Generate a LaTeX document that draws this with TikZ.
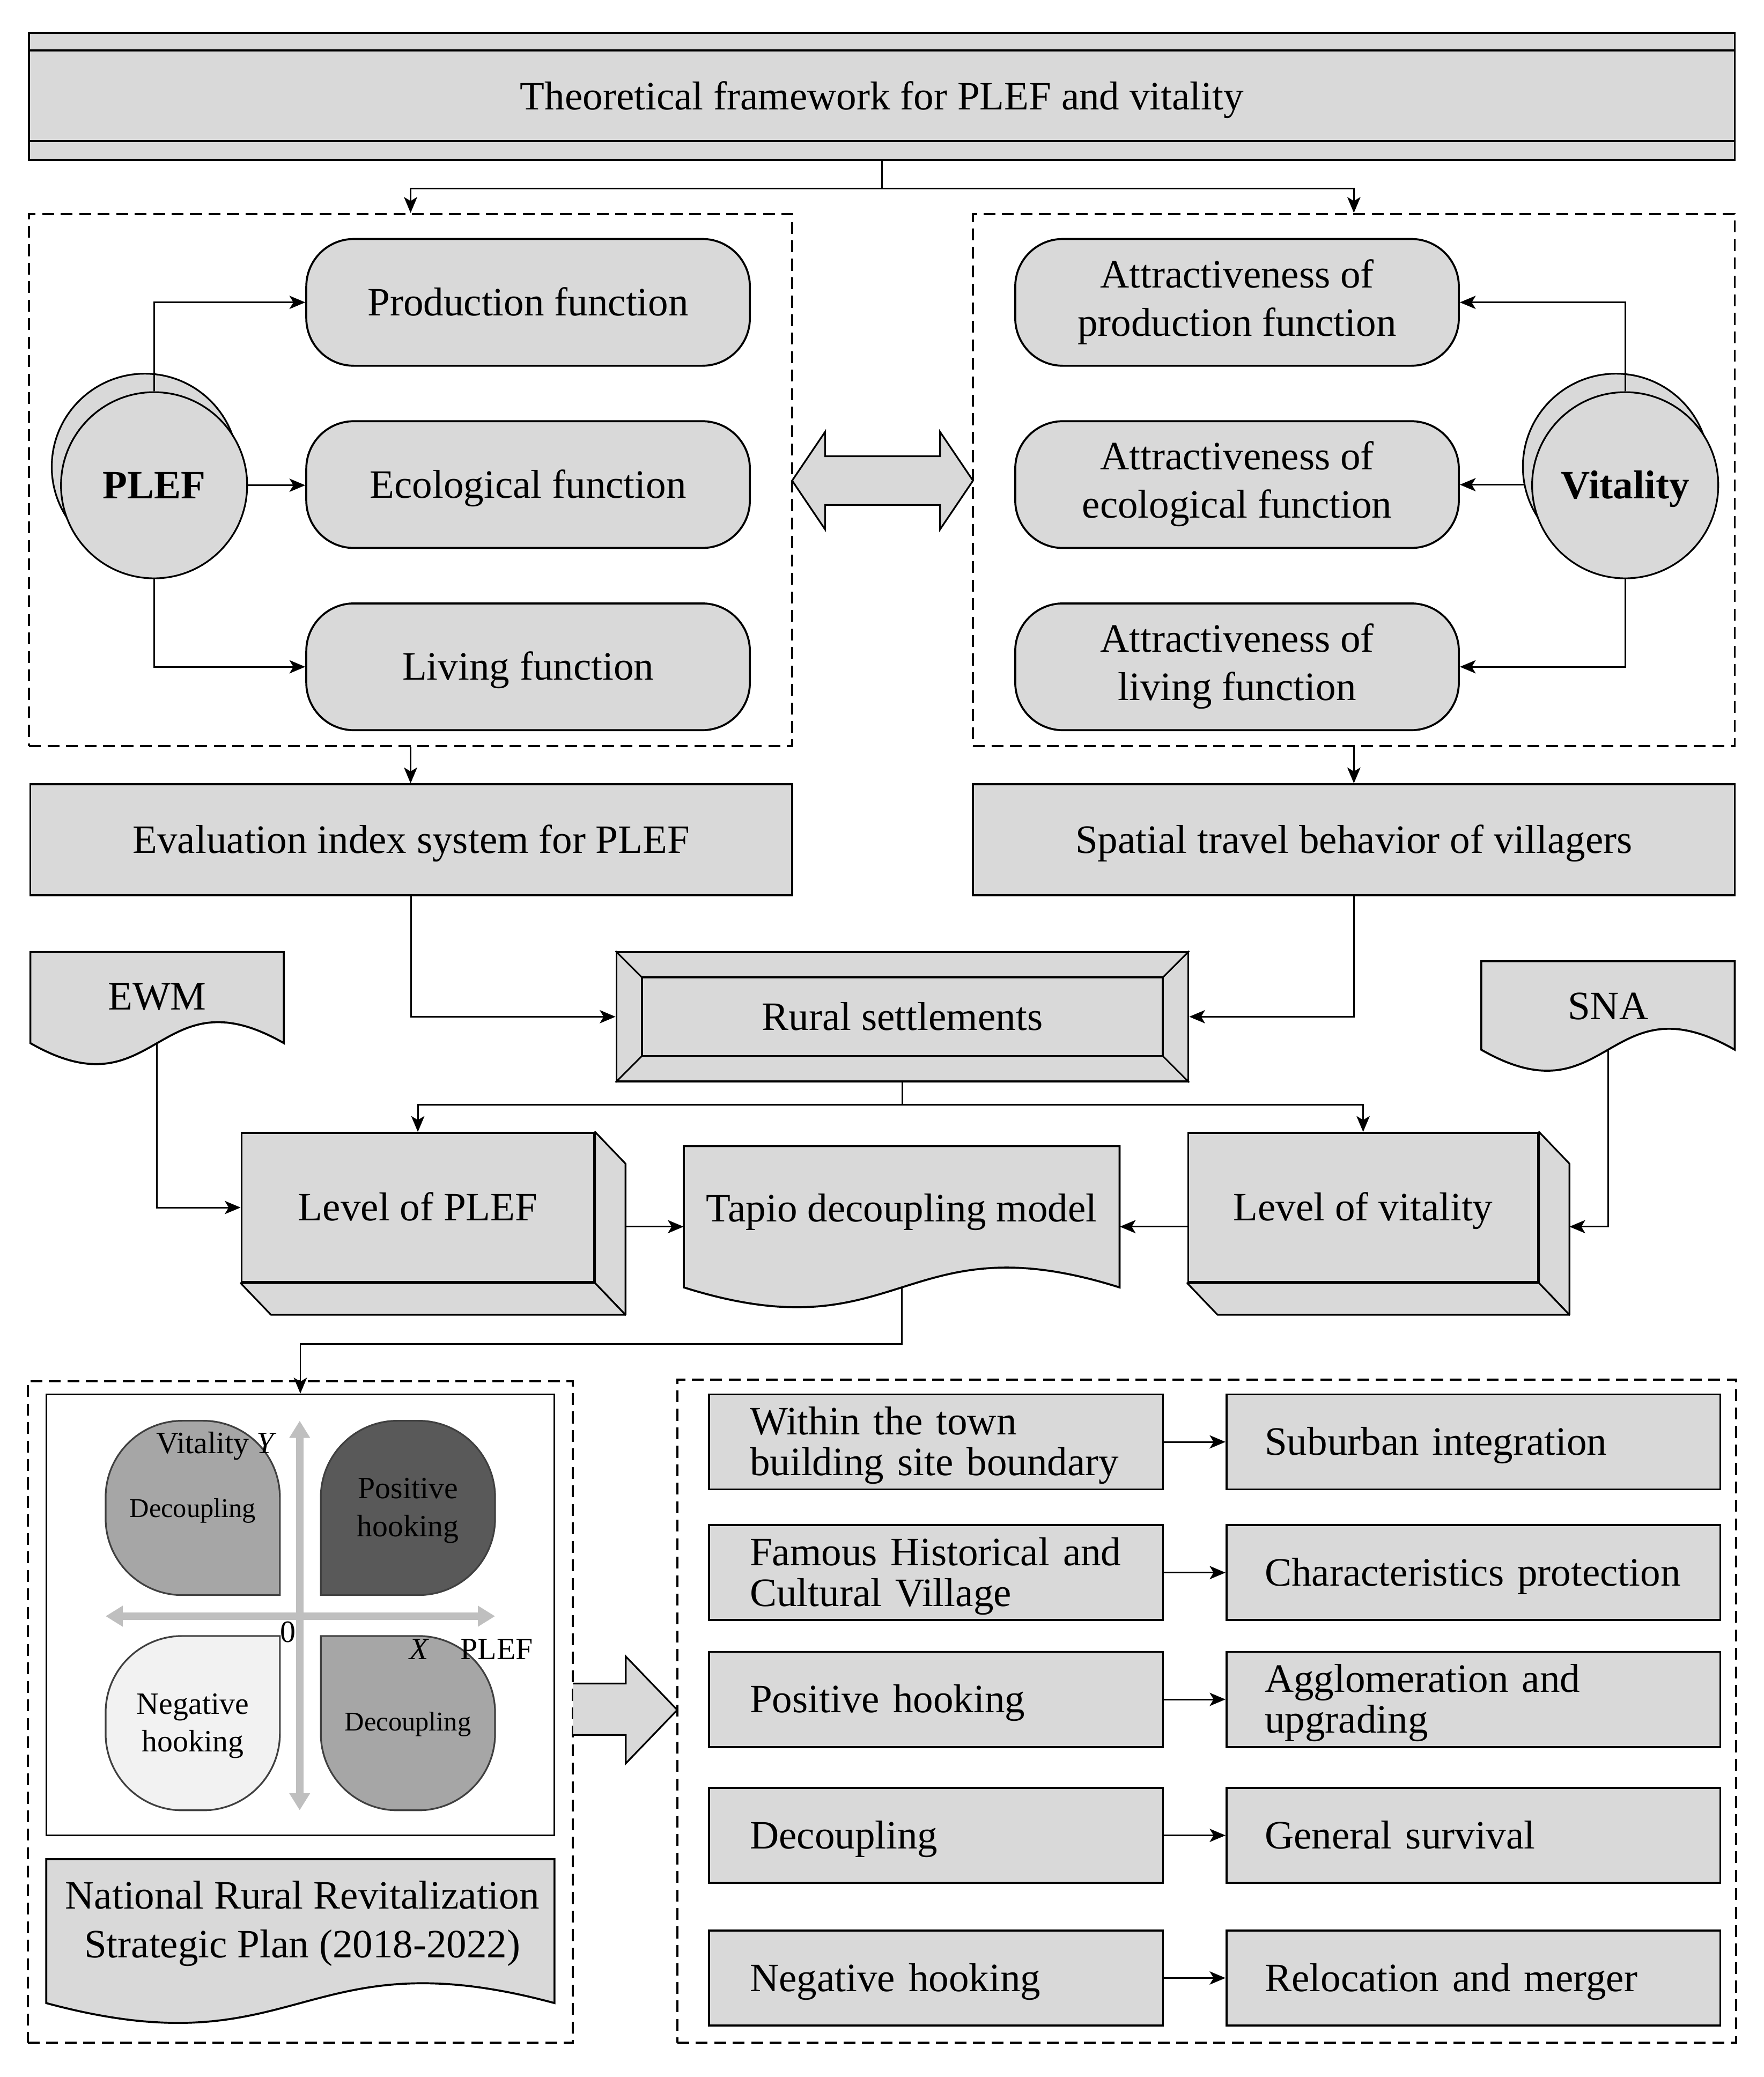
\documentclass[tikz,border=0pt]{standalone}
\usepackage{fontspec}
\setmainfont{Liberation Serif}
\usetikzlibrary{arrows.meta,calc}
\definecolor{bg}{HTML}{D9D9D9}
\definecolor{pmid}{HTML}{A6A6A6}
\definecolor{pdark}{HTML}{595959}
\definecolor{plight}{HTML}{F2F2F2}
\definecolor{axisgray}{HTML}{BFBFBF}
\definecolor{pedge}{HTML}{404040}
\newcommand\bigtxt{\fontsize{30.5}{36.5}\selectfont}
\newcommand\rowtxt{\fontsize{30.5}{31}\selectfont}
\newcommand\qtxt{\fontsize{23.5}{28.5}\selectfont}
\newcommand\stxt{\fontsize{20.5}{24}\selectfont}
\begin{document}
\begin{tikzpicture}[x=1pt,y=-1pt,
  strutted/.style={execute at begin node={\rule{0pt}{0.9em}},execute at end node={\rule[-0.24em]{0pt}{0.24em}}},
  box/.style={draw=black,line width=1.5pt,fill=bg,inner sep=0pt,align=center,font=\bigtxt,strutted},
  rbox/.style={box,rounded corners=36pt,minimum width=336pt,minimum height=96pt},
  dbox/.style={draw=black,line width=1.5pt,dash pattern=on 9pt off 5pt,inner sep=0pt},
  wire/.style={line width=1.2pt},
  conn/.style={line width=1.2pt,-{Stealth[length=12pt,width=10pt,inset=3pt]}},
  circ/.style={circle,draw=black,line width=1.3pt,fill=bg,minimum size=141pt,inner sep=0pt},
  doc/.style={draw=black,line width=1.5pt,fill=bg},
  face/.style={draw=black,line width=1.3pt,fill=bg,line join=round},
  petal/.style={draw=pedge,line width=1.3pt},
  qaxis/.style={draw=axisgray,line width=5.7pt,{Triangle[length=13pt,width=15pt]}-{Triangle[length=13pt,width=15pt]},color=axisgray},
  lrow/.style={box,minimum width=344pt,minimum height=72pt,text width=282pt,align=left,font=\rowtxt},
  rrow/.style={box,minimum width=374pt,minimum height=72pt,text width=316pt,align=left,font=\rowtxt}
]
\useasboundingbox (0,0) rectangle (1336,1573);
\fill[white] (0,0) rectangle (1336,1573);

% ---------- title ----------
\node[box,minimum width=1292pt,minimum height=96pt] (title) at (668,73) {Theoretical framework for PLEF and vitality};
\draw[line width=1.5pt] ($(title.north west)+(0,14)$) -- ($(title.north east)+(0,14)$);
\draw[line width=1.5pt] ($(title.south west)+(0,-15)$) -- ($(title.south east)+(0,-15)$);

% ---------- dashed upper groups ----------
\node[dbox,minimum width=578pt,minimum height=403pt] (lbox) at (311,363.5) {};
\node[dbox,minimum width=577pt,minimum height=403pt] (rbox) at (1025.5,363.5) {};
\draw[wire] (title.south) -- ++(0,21) coordinate (tj);
\draw[conn] (tj) -| (lbox.north);
\draw[conn] (tj) -| (rbox.north);

% left functions
\node[rbox] (prod) at (400,229) {Production function};
\node[rbox] (eco) at (400,367) {Ecological function};
\node[rbox] (liv) at (400,505) {Living function};
% right attractiveness
\node[rbox] (aprod) at (937,229) {Attractiveness of\\production function};
\node[rbox] (aeco) at (937,367) {Attractiveness of\\ecological function};
\node[rbox] (aliv) at (937,505) {Attractiveness of\\living function};

% PLEF circles
\node[circ] (plefb) at (109.7,353.5) {};
\node[circ,font=\bigtxt\bfseries] (plef) at (116.7,367.5) {PLEF};
\draw[conn] (plef.north) |- (prod.west);
\draw[conn] (plef.east) -- (plef.east -| eco.west);
\draw[conn] (plef.south) |- (liv.west);

% Vitality circles
\node[circ] (vitb) at (1224,353.5) {};
\node[circ,font=\bigtxt\bfseries,strutted] (vit) at (1231,367.5) {Vitality};
\draw[conn] (vit.north) |- (aprod.east);
\draw[conn] (vitb.191) -- (vitb.191 -| aeco.east);
\draw[conn] (vit.south) |- (aliv.east);

% double arrow
\draw[line width=1.3pt,fill=bg,line join=miter] (600,364) -- (625,327) -- (625,345.5) -- (712,345.5) -- (712,327) -- (737,364) -- (712,401) -- (712,382.5) -- (625,382.5) -- (625,401) -- cycle;

% ---------- evaluation / spatial ----------
\node[box,minimum width=577pt,minimum height=84pt] (eval) at (311.5,636) {Evaluation index system for PLEF};
\node[box,minimum width=577pt,minimum height=84pt] (spat) at (1025.5,636) {Spatial travel behavior of villagers};
\draw[conn] (lbox.south) -- (lbox.south |- eval.north);
\draw[conn] (rbox.south) -- (rbox.south |- spat.north);

% ---------- rural settlements ----------
\node[box,minimum width=433pt,minimum height=98pt] (rural) at (683.5,770) {Rural settlements};
\draw[line width=1.5pt] ($(rural.north west)+(20,20)$) rectangle ($(rural.south east)+(-20,-20)$);
\draw[line width=1.2pt] (rural.north west) -- ++(20,20);
\draw[line width=1.2pt] (rural.north east) -- ++(-20,20);
\draw[line width=1.2pt] (rural.south west) -- ++(20,-20);
\draw[line width=1.2pt] (rural.south east) -- ++(-20,-20);
\draw[conn] (eval.south) |- (rural.west);
\draw[conn] (spat.south) |- (rural.east);

% ---------- EWM / SNA documents ----------
\draw[doc] (23,721) -- (215,721) -- (215,790) .. controls (119,735) and (119,845) .. (23,790) -- cycle;
\node[font=\bigtxt] (ewm) at (119,755) {EWM};
\coordinate (ewmbot) at (119,790);
\draw[doc] (1122,728) -- (1314,728) -- (1314,795) .. controls (1218,740) and (1218,850) .. (1122,795) -- cycle;
\node[font=\bigtxt] (sna) at (1218,762) {SNA};
\coordinate (snabot) at (1218,795);

% ---------- level boxes ----------
\node[box,minimum width=267pt,minimum height=113pt] (lplef) at (316.5,914.5) {Level of PLEF};
\draw[face] (lplef.north east) -- ++(23,24) -- ($(lplef.south east)+(23,24)$) -- (lplef.south east) -- cycle;
\draw[face] (lplef.south west) -- (lplef.south east) -- ($(lplef.south east)+(23,24)$) -- ($(lplef.south west)+(23,24)$) -- cycle;
\node[box,minimum width=265pt,minimum height=113pt] (lvit) at (1032.5,914.5) {Level of vitality};
\draw[face] (lvit.north east) -- ++(23,24) -- ($(lvit.south east)+(23,24)$) -- (lvit.south east) -- cycle;
\draw[face] (lvit.south west) -- (lvit.south east) -- ($(lvit.south east)+(23,24)$) -- ($(lvit.south west)+(23,24)$) -- cycle;
\draw[wire] (rural.south) -- ++(0,17) coordinate (rj);
\draw[conn] (rj) -| (lplef.north);
\draw[conn] (rj) -| (lvit.north);

% ---------- Tapio ----------
\draw[doc] (518,868) -- (848,868) -- (848,975) .. controls (683,923) and (683,1027) .. (518,975) -- cycle;
\node[font=\bigtxt,strutted,minimum width=330pt,minimum height=94pt,inner sep=0pt] (tapio) at (683,915) {Tapio decoupling model};
\coordinate (tapbot) at (683,975);
\draw[conn] ($(lplef.east)+(23,14.5)$) -- ($(tapio.west)+(0,14)$);
\draw[conn] ($(lvit.west)+(0,14.5)$) -- ($(tapio.east)+(0,14)$);
\draw[conn] (ewmbot) |- (lplef.west);
\draw[conn] (snabot) |- ($(lvit.east)+(23,14.5)$);

% ---------- bottom-left group ----------
\node[dbox,minimum width=413pt,minimum height=501pt] (bl) at (227.5,1296.5) {};
\node[draw=black,line width=1.3pt,fill=white,minimum width=385pt,minimum height=334pt,inner sep=0pt] (quad) at (227.5,1223) {};
\draw[conn] (tapbot) -- ++(0,43) -| (quad.north);

% petals
\def\petalpath{(0,0) -- (-74,0) .. controls (-106,0) and (-132,-26) .. (-132,-58) -- (-132,-74) .. controls (-132,-106) and (-106,-132) .. (-74,-132) -- (-58,-132) .. controls (-26,-132) and (0,-106) .. (0,-74) -- cycle}
\begin{scope}[shift={(212,1208)}]
  \draw[petal,fill=pmid] \petalpath;
\end{scope}
\begin{scope}[shift={(243,1208)},xscale=-1]
  \draw[petal,fill=pdark] \petalpath;
\end{scope}
\begin{scope}[shift={(212,1239)},yscale=-1]
  \draw[petal,fill=plight] \petalpath;
\end{scope}
\begin{scope}[shift={(243,1239)},xscale=-1,yscale=-1]
  \draw[petal,fill=pmid] \petalpath;
\end{scope}
\draw[qaxis] (80,1224) -- (375,1224);
\draw[qaxis] (227,1076) -- (227,1371);

\node[font=\qtxt,inner sep=0pt] (ylab) at (164,1095) {Vitality \textit{Y}};
\node[font=\qtxt,inner sep=0pt] (zero) at (218,1236) {0};
\node[font=\qtxt,inner sep=0pt] (xlab) at (357,1249) {\textit{X}\hspace{1em}PLEF};
\node[font=\stxt,inner sep=0pt] (q1) at (146,1144) {Decoupling};
\node[font=\qtxt,inner sep=0pt,align=center] (q2) at (309,1144) {Positive\\hooking};
\node[font=\qtxt,inner sep=0pt,align=center] (q3) at (146,1307) {Negative\\hooking};
\node[font=\stxt,inner sep=0pt] (q4) at (309,1306) {Decoupling};

% national plan document
\draw[doc] (35,1408) -- (420,1408) -- (420,1517) .. controls (227.5,1465) and (227.5,1569) .. (35,1517) -- cycle;
\node[font=\fontsize{30.5}{37}\selectfont,align=center,inner sep=0pt] (nat) at (229,1457) {National Rural Revitalization\\Strategic Plan (2018-2022)};

% big right arrow
\fill[bg] (434,1275) -- (474,1275) -- (474,1254.5) -- (513,1295) -- (474,1335.5) -- (474,1314) -- (434,1314) -- cycle;
\draw[line width=1.3pt,line join=miter] (434,1275) -- (474,1275) -- (474,1254.5) -- (513,1295) -- (474,1335.5) -- (474,1314) -- (434,1314);

% ---------- bottom-right group ----------
\node[dbox,minimum width=802pt,minimum height=502pt] (br) at (914,1296) {};
\node[lrow] (r1l) at (709,1092) {Within the town\\building site boundary};
\node[rrow] (r1r) at (1116,1092) {Suburban integration};
\node[lrow] (r2l) at (709,1191) {Famous Historical and\\Cultural Village};
\node[rrow] (r2r) at (1116,1191) {Characteristics protection};
\node[lrow] (r3l) at (709,1287) {Positive hooking};
\node[rrow] (r3r) at (1116,1287) {Agglomeration and\\upgrading};
\node[lrow] (r4l) at (709,1390) {Decoupling};
\node[rrow] (r4r) at (1116,1390) {General survival};
\node[lrow] (r5l) at (709,1498) {Negative hooking};
\node[rrow] (r5r) at (1116,1498) {Relocation and merger};
\foreach \i in {1,...,5} \draw[conn] (r\i l.east) -- (r\i r.west);
\end{tikzpicture}
\end{document}
